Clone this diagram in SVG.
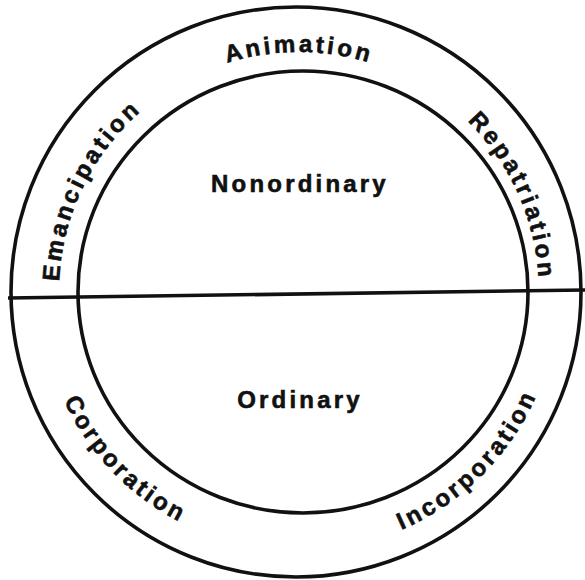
<svg xmlns="http://www.w3.org/2000/svg" xmlns:xlink="http://www.w3.org/1999/xlink" width="585" height="580" viewBox="0 0 585 580">
<style>
.ring{fill:none;stroke:#111;stroke-width:3.6}
.lbl{font-family:"Liberation Sans",Arial,sans-serif;font-weight:bold;font-size:24px;fill:#111;stroke:#111;stroke-width:0.6;letter-spacing:3.2px}
</style>
<defs>
<path id="upper" d="M299,532 A240,240 0 1 1 299,52 A240,240 0 1 1 299,532"/>
<path id="lower" d="M299,33 A259,259 0 1 0 299,551 A259,259 0 1 0 299,33"/>
</defs>
<rect width="585" height="580" fill="#fff"/>
<g id="outer-circle"><circle class="ring" cx="296" cy="292" r="285"/></g>
<g id="inner-circle"><ellipse class="ring" cx="303" cy="292" rx="225" ry="221"/></g>
<g id="connectors"><line class="ring" x1="8" y1="298" x2="585" y2="290"/></g>
<g id="nonordinary"><text class="lbl" x="300" y="192" text-anchor="middle">Nonordinary</text></g>
<g id="ordinary"><text class="lbl" x="300" y="408" text-anchor="middle">Ordinary</text></g>
<g id="animation"><text class="lbl" text-anchor="middle"><textPath xlink:href="#upper" href="#upper" startOffset="50%">Animation</textPath></text></g>
<g id="emancipation"><text class="lbl" text-anchor="middle"><textPath xlink:href="#upper" href="#upper" startOffset="32.2%">Emancipation</textPath></text></g>
<g id="repatriation"><text class="lbl" text-anchor="middle"><textPath xlink:href="#upper" href="#upper" startOffset="68.3%">Repatriation</textPath></text></g>
<g id="corporation"><text class="lbl" text-anchor="middle"><textPath xlink:href="#lower" href="#lower" startOffset="37.2%">Corporation</textPath></text></g>
<g id="incorporation"><text class="lbl" text-anchor="middle"><textPath xlink:href="#lower" href="#lower" startOffset="62.5%">Incorporation</textPath></text></g>
</svg>
